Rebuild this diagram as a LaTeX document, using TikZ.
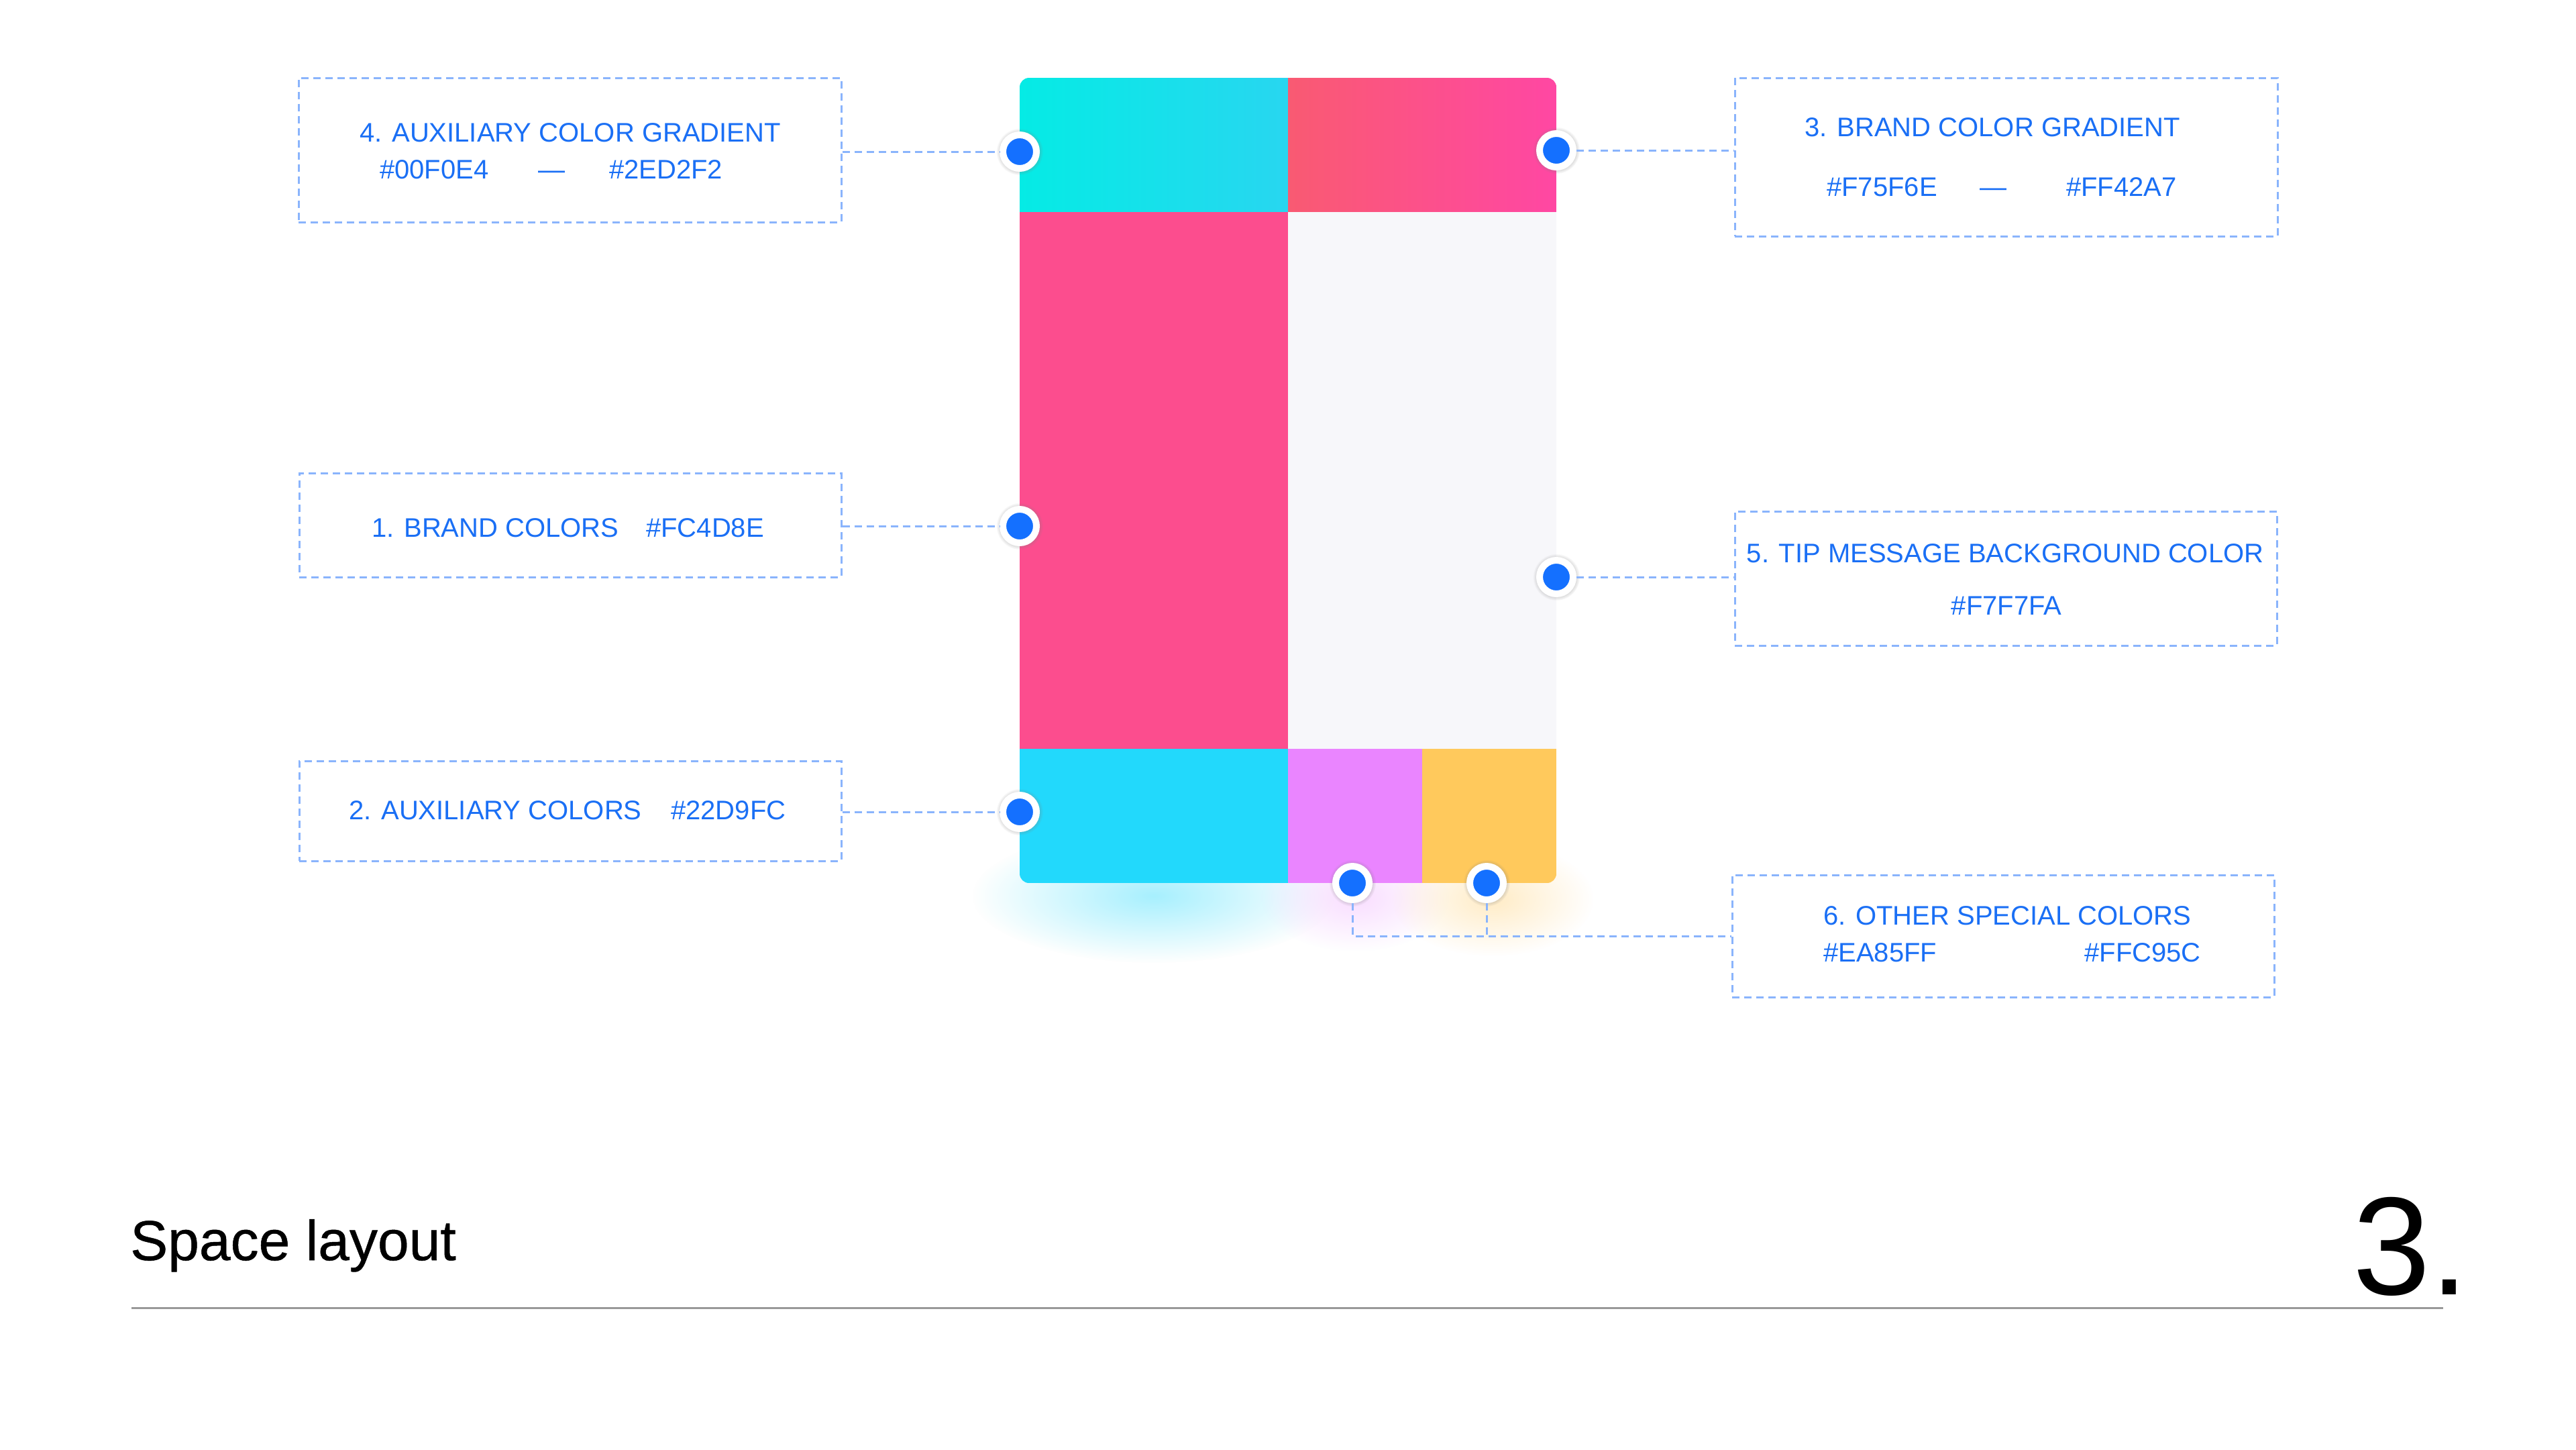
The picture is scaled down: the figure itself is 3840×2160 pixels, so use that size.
\documentclass[tikz,border=0pt]{standalone}
\usepackage{fontspec}
\setmainfont{Liberation Sans}
\newfontfamily\titlefont{Liberation Sans}[FakeBold=0.6]
\usetikzlibrary{shadows,fadings,calc}
\tikzfading[name=glowfade, inner color=transparent!0, outer color=transparent!100]
\definecolor{cyanA}{HTML}{05EBE5}
\definecolor{cyanB}{HTML}{28D6F0}
\definecolor{pinkA}{HTML}{F95A72}
\definecolor{pinkB}{HTML}{FF47A3}
\definecolor{brand}{HTML}{FC4D8E}
\definecolor{tipbg}{HTML}{F7F7FA}
\definecolor{aux}{HTML}{22D9FC}
\definecolor{purp}{HTML}{EA85FF}
\definecolor{yell}{HTML}{FFC95C}
\definecolor{dotblue}{HTML}{1470FF}
\definecolor{txtblue}{HTML}{1A6FF5}
\definecolor{dashcol}{HTML}{8AB4FC}
\definecolor{rulegray}{HTML}{999999}
\begin{document}
\begin{tikzpicture}[x=1pt,y=-1pt,
  box/.style={draw=dashcol, line width=3pt, dash pattern=on 11pt off 7pt, inner sep=0pt},
  conn/.style={draw=dashcol, line width=3pt, dash pattern=on 11pt off 7pt},
  lbl/.style={text=txtblue, font=\fontsize{40}{48}\selectfont, inner sep=0pt},
  dot/.style={circle, fill=dotblue, draw=white, line width=10pt, minimum size=50pt, inner sep=0pt,
    circular drop shadow={shadow xshift=0pt, shadow yshift=0pt, shadow scale=1.4, opacity=0.25}}
]
\useasboundingbox[fill=white] (0,0) rectangle (3840,2160);

% glows under the bottom row
\fill[aux!40, path fading=glowfade] (1720,1335) ellipse [x radius=270, y radius=100];
\fill[purp!28, path fading=glowfade] (2020,1338) ellipse [x radius=140, y radius=80];
\fill[yell!35, path fading=glowfade] (2225,1340) ellipse [x radius=150, y radius=85];

% phone
\begin{scope}
\clip[rounded corners=14pt] (1520,116) rectangle (2320,1316);
\shade[left color=cyanA, right color=cyanB] (1520,116) rectangle (1920,316);
\shade[left color=pinkA, right color=pinkB] (1920,116) rectangle (2320,316);
\fill[brand] (1520,316) rectangle (1920,1116);
\fill[tipbg] (1920,316) rectangle (2320,1116);
\fill[aux] (1520,1116) rectangle (1920,1316);
\fill[purp] (1920,1116) rectangle (2120,1316);
\fill[yell] (2120,1116) rectangle (2320,1316);
\end{scope}

% boxes
\node[box, minimum width=809pt, minimum height=215pt] (b4) at (849.5,223.5) {};
\node[box, minimum width=809pt, minimum height=236pt] (b3) at (2990.5,234) {};
\node[box, minimum width=808pt, minimum height=155pt] (b1) at (850,782.5) {};
\node[box, minimum width=808pt, minimum height=200pt] (b5) at (2990,862) {};
\node[box, minimum width=808pt, minimum height=149pt] (b2) at (850,1208.5) {};
\node[box, minimum width=808pt, minimum height=182pt] (b6) at (2986,1395) {};

% texts
\node[lbl, anchor=base] (t4a) at (850,211) {4. AUXILIARY COLOR GRADIENT};
\node[lbl, anchor=base west] (t4b) at (566,266) {\#00F0E4};
\node[lbl, anchor=base] (t4c) at (822,266) {—};
\node[lbl, anchor=base west] (t4d) at (908,266) {\#2ED2F2};

\node[lbl, anchor=base] (t3a) at (2970,203) {3. BRAND COLOR GRADIENT};
\node[lbl, anchor=base west] (t3b) at (2723,292) {\#F75F6E};
\node[lbl, anchor=base] (t3c) at (2971,292) {—};
\node[lbl, anchor=base east] (t3d) at (3245,292) {\#FF42A7};

\node[lbl, anchor=base west] (t1a) at (554,800) {1. BRAND COLORS};
\node[lbl, anchor=base west] (t1b) at (963,800) {\#FC4D8E};

\node[lbl, anchor=base west] (t2a) at (520,1221) {2. AUXILIARY COLORS};
\node[lbl, anchor=base west] (t2b) at (1000,1221) {\#22D9FC};

\node[lbl, anchor=base] (t5a) at (2989,838) {5. TIP MESSAGE BACKGROUND COLOR};
\node[lbl, anchor=base] (t5b) at (2991,916) {\#F7F7FA};

\node[lbl, anchor=base west] (t6a) at (2718,1378) {6. OTHER SPECIAL COLORS};
\node[lbl, anchor=base west] (t6b) at (2718,1433) {\#EA85FF};
\node[lbl, anchor=base east] (t6c) at (3281,1433) {\#FFC95C};

% dots
\node[dot] (d4) at (1520,226) {};
\node[dot] (d3) at (2320,224) {};
\node[dot] (d1) at (1520,784) {};
\node[dot] (d5) at (2320,860) {};
\node[dot] (d2) at (1520,1210) {};
\node[dot] (d6a) at (2016,1316) {};
\node[dot] (d6b) at (2216,1316) {};

% connectors
\draw[conn] (b4.east |- d4) -- (d4.west);
\draw[conn] (d3.east) -- (b3.west |- d3);
\draw[conn] (b1.east |- d1) -- (d1.west);
\draw[conn] (d5.east) -- (b5.west |- d5);
\draw[conn] (b2.east |- d2) -- (d2.west);
\draw[conn] (d6a.south) |- (b6.west);
\draw[conn] (d6b.south) -- (d6b |- b6.west);

% footer
\node[anchor=base west, inner sep=0pt, font=\titlefont\fontsize{84}{90}\selectfont] (title) at (194,1878) {Space layout};
\node[anchor=base west, inner sep=0pt, font=\fontsize{208}{220}\selectfont] (num) at (3507,1929) {3.};
\coordinate (rl) at (196,1949);
\coordinate (rr) at (3642,1949);
\draw[rulegray, line width=3pt] (rl) -- (rr);
\end{tikzpicture}
\end{document}
